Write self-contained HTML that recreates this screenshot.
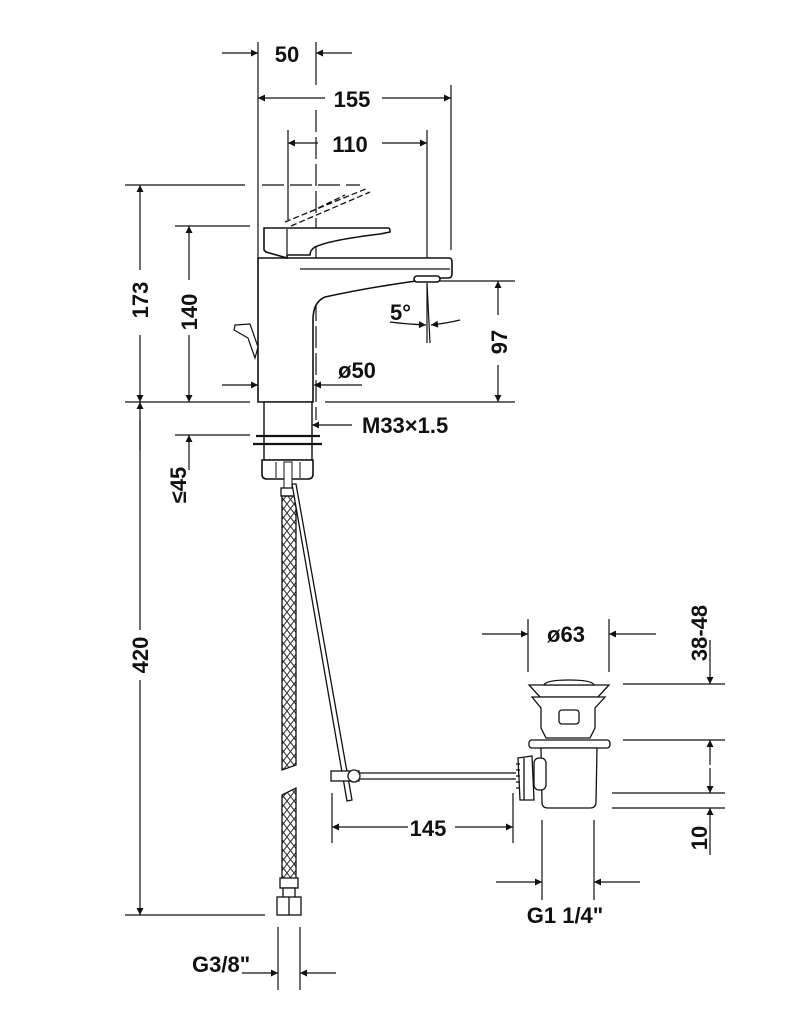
<!DOCTYPE html>
<html><head><meta charset="utf-8"><style>
html,body{margin:0;padding:0;background:#fff}
svg{display:block}
text{font-family:"Liberation Sans Narrow","Liberation Sans",sans-serif;font-weight:bold;fill:#111}
</style></head><body>
<svg width="806" height="1024" viewBox="0 0 806 1024" xmlns="http://www.w3.org/2000/svg">
<defs>
<marker id="a" viewBox="0 0 10 10" refX="10" refY="5" markerWidth="14" markerHeight="7" markerUnits="userSpaceOnUse" orient="auto"><path d="M0,0L10,5L0,10z" fill="#111"/></marker>
<pattern id="br" width="7" height="9" patternUnits="userSpaceOnUse"><path d="M0,0L7,9M7,0L0,9" stroke="#333" stroke-width="1" fill="none"/></pattern>
</defs>
<g stroke="#111" stroke-width="1.2" fill="none">
<line x1="258" y1="42" x2="258" y2="258"/>
<line x1="316" y1="42" x2="316" y2="85"/>
<line x1="451" y1="85" x2="451" y2="250"/>
<line x1="288" y1="130" x2="288" y2="220"/>
<line x1="427" y1="130" x2="427" y2="270"/>
<line x1="316" y1="110" x2="316" y2="420" stroke-dasharray="22,5"/>
<line x1="222" y1="53" x2="258" y2="53" marker-end="url(#a)"/>
<line x1="352" y1="53" x2="316" y2="53" marker-end="url(#a)"/>
<line x1="325" y1="98" x2="258" y2="98" marker-end="url(#a)"/>
<line x1="382" y1="98" x2="451" y2="98" marker-end="url(#a)"/>
<line x1="318" y1="143" x2="288" y2="143" marker-end="url(#a)"/>
<line x1="382" y1="143" x2="427" y2="143" marker-end="url(#a)"/>
<line x1="125" y1="185" x2="245" y2="185"/>
<line x1="262" y1="185" x2="360" y2="185" stroke-dasharray="22,6"/>
<line x1="175" y1="226" x2="250" y2="226"/>
<line x1="125" y1="402" x2="250" y2="402"/>
<line x1="325" y1="402" x2="515" y2="402"/>
<line x1="430" y1="281" x2="515" y2="281"/>
<line x1="175" y1="435" x2="250" y2="435"/>
<line x1="125" y1="915" x2="265" y2="915"/>
<line x1="140" y1="270" x2="140" y2="185" marker-end="url(#a)"/>
<line x1="140" y1="335" x2="140" y2="402" marker-end="url(#a)"/>
<line x1="189" y1="280" x2="189" y2="226" marker-end="url(#a)"/>
<line x1="189" y1="335" x2="189" y2="402" marker-end="url(#a)"/>
<line x1="498" y1="315" x2="498" y2="281" marker-end="url(#a)"/>
<line x1="498" y1="365" x2="498" y2="402" marker-end="url(#a)"/>
<line x1="427" y1="283" x2="427" y2="343"/>
<line x1="427" y1="283" x2="430" y2="343"/>
<path d="M390,322 Q405,324 426,325" marker-end="url(#a)"/>
<path d="M460,320 Q448,323 431,325" marker-end="url(#a)"/>
<line x1="222" y1="385" x2="258" y2="385" marker-end="url(#a)"/>
<line x1="362" y1="385" x2="314" y2="385" marker-end="url(#a)"/>
<line x1="352" y1="425" x2="312" y2="425" marker-end="url(#a)"/>
<line x1="189" y1="470" x2="189" y2="435" marker-end="url(#a)"/>
<line x1="140" y1="450" x2="140" y2="402" marker-end="url(#a)" />
<line x1="140" y1="420" x2="140" y2="630"/>
<line x1="140" y1="680" x2="140" y2="915" marker-end="url(#a)"/>
<line x1="278" y1="927" x2="278" y2="990"/>
<line x1="300" y1="927" x2="300" y2="990"/>
<line x1="242" y1="973" x2="278" y2="973" marker-end="url(#a)"/>
<line x1="336" y1="973" x2="300" y2="973" marker-end="url(#a)"/>
<line x1="332" y1="793" x2="332" y2="843"/>
<line x1="513" y1="793" x2="513" y2="843"/>
<line x1="408" y1="827" x2="332" y2="827" marker-end="url(#a)"/>
<line x1="455" y1="827" x2="513" y2="827" marker-end="url(#a)"/>
<line x1="528" y1="619" x2="528" y2="672"/>
<line x1="609" y1="619" x2="609" y2="672"/>
<line x1="482" y1="634" x2="528" y2="634" marker-end="url(#a)"/>
<line x1="656" y1="634" x2="609" y2="634" marker-end="url(#a)"/>
<line x1="623" y1="684" x2="725" y2="684"/>
<line x1="623" y1="740" x2="725" y2="740"/>
<line x1="612" y1="793" x2="725" y2="793"/>
<line x1="612" y1="808" x2="725" y2="808"/>
<line x1="710" y1="640" x2="710" y2="684" marker-end="url(#a)"/>
<line x1="710" y1="765" x2="710" y2="740" marker-end="url(#a)"/>
<line x1="710" y1="768" x2="710" y2="793" marker-end="url(#a)"/>
<line x1="710" y1="855" x2="710" y2="808" marker-end="url(#a)"/>
<line x1="542" y1="820" x2="542" y2="900"/>
<line x1="594" y1="820" x2="594" y2="900"/>
<line x1="496" y1="882" x2="542" y2="882" marker-end="url(#a)"/>
<line x1="640" y1="882" x2="594" y2="882" marker-end="url(#a)"/>
</g>
<g stroke="#111" stroke-width="1.6" fill="#fff">
<path d="M258,258 L449,258 Q452,258 452,262 L452,274 Q452,278 448,278 L440,278 Q380,285 325,297 Q313,302 313,320 L313,402 L258,402 Z"/>
<line x1="300" y1="269" x2="450" y2="269" stroke-width="1.2"/>
<rect x="414" y="276" width="26" height="6" rx="3"/>
<path d="M264,228 L388,228 Q390,228 390,231 L390,232 L380,234 Q330,240 315,247 Q310,250 310,255 L287,255 L287,258 L266,252 L264,250 Z"/>
<line x1="287" y1="229" x2="287" y2="254" stroke-width="1.2"/>
<path d="M235,325 L250,324 L258,347 L255,358 L248,338 L234,330 Z" stroke-width="1.2"/>
<rect x="264" y="402" width="48" height="58" stroke-width="1.4"/>
<line x1="256" y1="436" x2="320" y2="436" stroke-width="2.2"/>
<line x1="253" y1="444" x2="322" y2="444" stroke-width="2.2"/>
<path d="M262,460 L313,460 L313,474 Q313,479 308,479 L267,479 Q262,479 262,474 Z"/>
<line x1="276" y1="462" x2="276" y2="478" stroke-width="1"/>
<line x1="300" y1="462" x2="300" y2="478" stroke-width="1"/>
<rect x="284" y="462" width="8" height="26" stroke-width="1"/>
</g>
<g stroke="#111" stroke-width="1.3" fill="none">
<path d="M285,222 L368,188 M291,226 L370,192 M310,212 L345,195" stroke-dasharray="6,3"/>
</g>
<g stroke="#111" stroke-width="1.3">
<rect x="281" y="488" width="14" height="8" fill="#fff"/>
<path d="M282,496 L296,496 L296,765 L282,770 Z" fill="url(#br)"/>
<path d="M282,795 L296,788 L296,880 L282,880 Z" fill="url(#br)"/>
<rect x="280" y="878" width="18" height="10" fill="#fff"/>
<rect x="283" y="888" width="12" height="10" fill="#fff"/>
<rect x="277" y="897" width="24" height="18" fill="#fff"/>
<line x1="289" y1="897" x2="289" y2="915"/>
<path d="M292,484 L296,484 L352,800 L347,801 Z" fill="#fff"/>
<line x1="358" y1="773" x2="516" y2="773"/>
<line x1="358" y1="779" x2="516" y2="779"/>
<rect x="331" y="771" width="28" height="10" fill="#fff"/>
<circle cx="354" cy="776" r="6" fill="#fff"/>
<path d="M529,685 L609,685 L598,697 L540,697 Z" fill="#fff"/>
<path d="M544,685 Q546,680 569,680 Q592,680 594,685 Z" fill="#fff"/>
<path d="M532,697 L605,697 L595,708 L595,728 L590,738 L546,738 L541,728 L541,708 Z" fill="#fff"/>
<rect x="559" y="710" width="20" height="14" rx="3" fill="#fff"/>
<rect x="529" y="740" width="81" height="8" rx="3" fill="#fff"/>
<path d="M541,748 L597,748 L596,802 Q596,808 590,808 L548,808 Q542,808 542,802 Z" fill="#fff"/>
<rect x="534" y="758" width="12" height="32" rx="5" fill="#fff"/>
<path d="M518,758 L532,756 L534,800 L520,800 Z" fill="#fff"/>
<path d="M516,764 L520,764 M516,770 L520,770 M516,776 L520,776 M516,782 L520,782 M516,788 L520,788 M524,758 L524,800"/>
</g>
<text x="287" y="62" font-size="22" text-anchor="middle">50</text>
<text x="352" y="107" font-size="22" text-anchor="middle">155</text>
<text x="350" y="152" font-size="22" text-anchor="middle">110</text>
<text x="390" y="320" font-size="22">5°</text>
<text x="338" y="378" font-size="22">ø50</text>
<text x="362" y="433" font-size="22">M33×1.5</text>
<text x="428" y="836" font-size="22" text-anchor="middle">145</text>
<text x="566" y="642" font-size="22" text-anchor="middle">ø63</text>
<text x="565" y="923" font-size="22" text-anchor="middle">G1 1/4"</text>
<text x="192" y="972" font-size="22">G3/8"</text>
<text transform="translate(148,300) rotate(-90)" font-size="22" text-anchor="middle">173</text>
<text transform="translate(197,312) rotate(-90)" font-size="22" text-anchor="middle">140</text>
<text transform="translate(507,342) rotate(-90)" font-size="22" text-anchor="middle">97</text>
<text transform="translate(186,485) rotate(-90)" font-size="22" text-anchor="middle">≤45</text>
<text transform="translate(148,655) rotate(-90)" font-size="22" text-anchor="middle">420</text>
<text transform="translate(707,633) rotate(-90)" font-size="22" text-anchor="middle">38-48</text>
<text transform="translate(707,838) rotate(-90)" font-size="22" text-anchor="middle">10</text>
</svg>
</body></html>
